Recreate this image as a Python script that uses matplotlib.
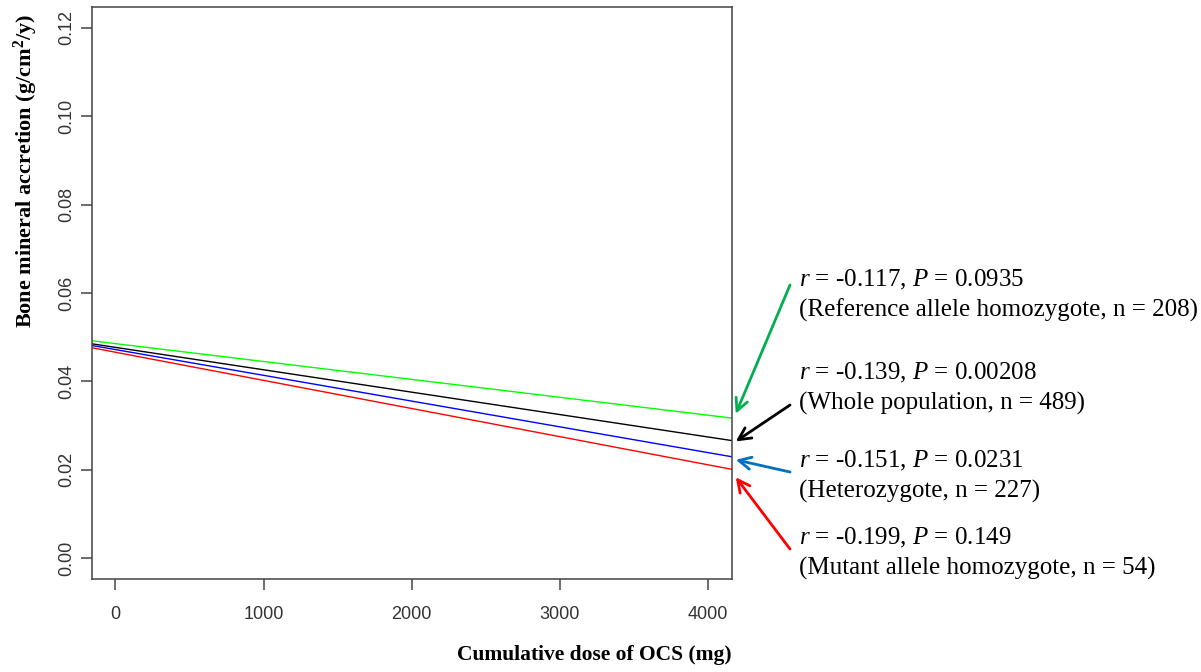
import numpy as np
import matplotlib
matplotlib.use("Agg")
import matplotlib.pyplot as plt

plt.rcParams["mathtext.fontset"] = "custom"
plt.rcParams["mathtext.rm"] = "Liberation Serif"
plt.rcParams["mathtext.it"] = "Liberation Serif:italic"
plt.rcParams["mathtext.bf"] = "Liberation Serif:bold"

# fitted regression lines (intercept at dose 0, slope per mg)
groups = ["Reference allele homozygote", "Whole population", "Heterozygote", "Mutant allele homozygote"]
intercepts = [0.04855, 0.0477, 0.0472, 0.0466]
slopes = [-4.05e-6, -5.07e-6, -5.83e-6, -6.37e-6]
line_colors = ["#00ff00", "#000000", "#0000ff", "#ff0000"]

r_values = ["-0.117", "-0.139", "-0.151", "-0.199"]
p_values = ["0.0935", "0.00208", "0.0231", "0.149"]
n_values = [208, 489, 227, 54]
arrow_colors = ["#00b050", "#000000", "#0070c0", "#ff0000"]

x_ticks = [0, 1000, 2000, 3000, 4000]
y_ticks = [0.00, 0.02, 0.04, 0.06, 0.08, 0.10, 0.12]
x_lim = (-160, 4160)
y_lim = (-0.0048, 0.1248)

fig = plt.figure(figsize=(12.01, 6.72), dpi=100)
ax = fig.add_axes([0.0764, 0.1379, 0.5329, 0.8521])

for b, m, c in zip(intercepts, slopes, line_colors):
    xs = np.array(x_lim)
    ax.plot(xs, b + m * xs, color=c, lw=1.0)

ax.set_xlim(*x_lim)
ax.set_ylim(*y_lim)
ax.set_xticks(x_ticks)
ax.set_xticklabels([str(t) for t in x_ticks])
ax.set_yticks(y_ticks)
ax.set_yticklabels([f"{t:.2f}" for t in y_ticks], rotation=90, va="center")
ax.tick_params(direction="out", length=8, width=1.1, color="#444444",
               labelsize=13, labelcolor="#333333")
ax.tick_params(axis="x", pad=11)
ax.tick_params(axis="y", pad=4)
for lab in ax.get_xticklabels() + ax.get_yticklabels():
    lab.set_family("Liberation Sans")
for s in ax.spines.values():
    s.set_color("#444444")
    s.set_linewidth(1.1)

fig.text(0.6095, 0.010, "Cumulative dose of OCS (mg)", ha="right", va="bottom",
         family="Liberation Serif", fontweight="bold", fontsize=15.5)
fig.text(0.0216, 0.745, r"Bone mineral accretion (g/cm$^\mathbf{2}$/y)", ha="center", va="center",
         rotation=90, family="Liberation Serif", fontweight="bold", fontsize=16)

# annotation text blocks (figure fraction) and arrows to line ends
text_y = [0.561, 0.4226, 0.2917, 0.177]
tip_offsets = [0.00097, -0.0002, -0.0007, -0.0018]
tail_y = [0.5759, 0.3973, 0.2976, 0.183]
for i in range(4):
    fig.text(0.6653, text_y[i],
             f"$r$ = {r_values[i]}, $P$ = {p_values[i]}\n({groups[i]}, n = {n_values[i]})",
             ha="left", va="center", family="Liberation Serif", fontsize=18,
             linespacing=1.4)
    x_end = x_lim[1]
    y_end = intercepts[i] + slopes[i] * x_end
    ax.annotate("", xy=(x_end + 27, y_end + tip_offsets[i]), xycoords="data",
                xytext=(0.6578, tail_y[i]), textcoords="figure fraction",
                annotation_clip=False,
                arrowprops=dict(arrowstyle="->", color=arrow_colors[i], lw=2.0,
                                mutation_scale=22, shrinkA=0, shrinkB=0))

fig.savefig("out.png", dpi=100)
